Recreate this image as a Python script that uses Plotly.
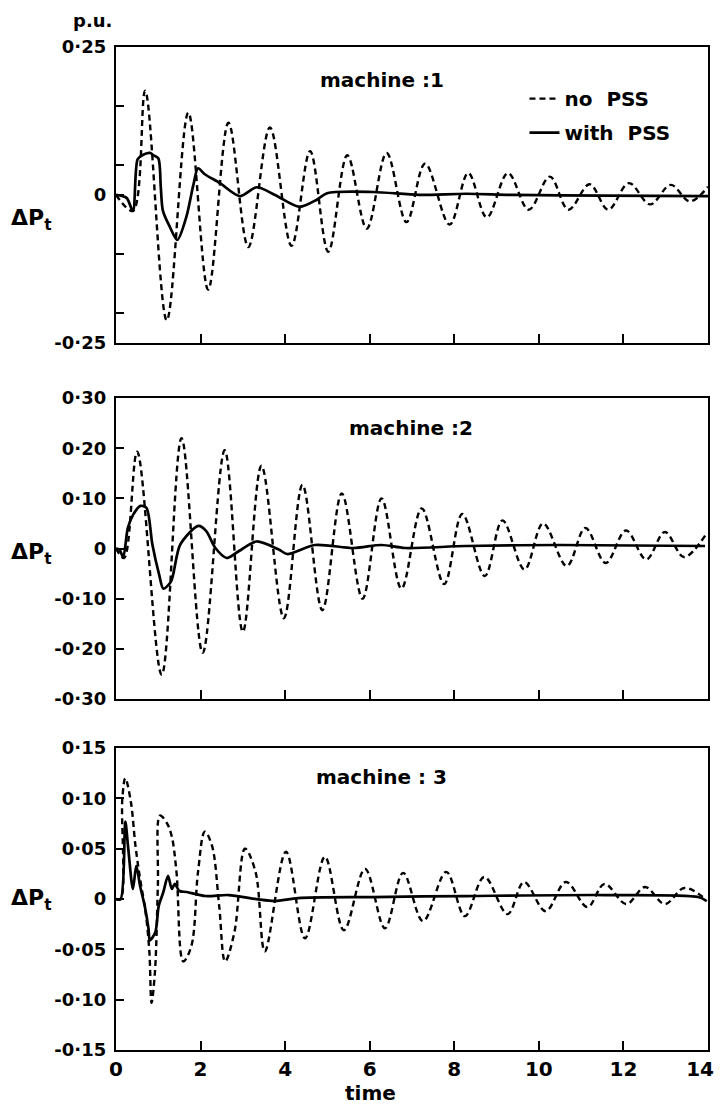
import plotly.graph_objects as go
from plotly.subplots import make_subplots

# ---------------- data ----------------
time_ticks = [0, 2, 4, 6, 8, 10, 12, 14]
time_tick_text = ["0", "2", "4", "6", "8", "10", "12", "14\u2009s"]

# machine 1
m1_t_nopss = [0, 0.40, 0.69, 1.20, 1.71, 2.18, 2.66, 3.13, 3.64, 4.15, 4.59, 5.02, 5.47, 5.93,
              6.40, 6.87, 7.31, 7.89, 8.33, 8.77, 9.27, 9.76, 10.26, 10.70, 11.20, 11.64,
              12.13, 12.63, 13.12, 13.57, 14.0]
m1_v_nopss = [0, -0.027, 0.176, -0.212, 0.139, -0.160, 0.122, -0.088, 0.114, -0.086, 0.074,
              -0.096, 0.067, -0.057, 0.071, -0.046, 0.053, -0.050, 0.037, -0.038, 0.037,
              -0.025, 0.031, -0.025, 0.018, -0.025, 0.020, -0.016, 0.017, -0.011, 0.014]
m1_t_pss = [0, 0.25, 0.40, 0.51, 0.62, 0.80, 0.89, 1.00, 1.06, 1.11, 1.28, 1.45, 1.66, 1.83,
            1.94, 2.10, 2.46, 2.93, 3.33, 3.76, 4.34, 4.75, 4.99, 6.08, 7.17, 8.28, 9.38,
            11.5, 14.0]
m1_v_pss = [0, -0.005, -0.027, 0.060, 0.067, 0.071, 0.067, 0.062, 0.012, -0.027, -0.055,
            -0.076, -0.038, 0.017, 0.045, 0.035, 0.020, -0.002, 0.013, 0.0, -0.020, -0.008,
            0.003, 0.005, 0.0, 0.002, 0.0, -0.001, -0.002]

# machine 2
m2_t_nopss = [0, 0.19, 0.50, 1.08, 1.55, 2.05, 2.57, 3.00, 3.44, 3.97, 4.41, 4.88, 5.34, 5.83,
              6.28, 6.75, 7.23, 7.76, 8.19, 8.72, 9.14, 9.66, 10.10, 10.66, 11.10, 11.58,
              12.06, 12.54, 12.98, 13.43, 13.95]
m2_v_nopss = [0, -0.019, 0.193, -0.252, 0.220, -0.208, 0.196, -0.166, 0.165, -0.139, 0.127,
              -0.123, 0.110, -0.100, 0.100, -0.080, 0.080, -0.071, 0.069, -0.055, 0.056,
              -0.042, 0.050, -0.035, 0.041, -0.029, 0.036, -0.022, 0.033, -0.017, 0.028]
m2_t_pss = [0, 0.08, 0.17, 0.28, 0.41, 0.58, 0.72, 0.86, 1.02, 1.12, 1.30, 1.52, 1.95, 2.13,
            2.35, 2.62, 2.91, 3.32, 3.85, 4.05, 4.70, 5.62, 6.28, 6.84, 8.27, 10.49, 13.93]
m2_v_pss = [0, -0.002, -0.017, 0.041, 0.068, 0.085, 0.081, 0.008, -0.052, -0.080, -0.066,
            0.008, 0.045, 0.035, 0.001, -0.019, -0.005, 0.014, -0.002, -0.011, 0.007, 0.001,
            0.007, 0.001, 0.005, 0.007, 0.005]

# machine 3
m3_t_nopss = [0, 0.11, 0.15, 0.22, 0.35, 0.46, 0.57, 0.70, 0.79, 0.84, 0.92, 0.99, 1.04,
              1.21, 1.32, 1.43, 1.59, 1.78, 1.94, 2.10, 2.27, 2.44, 2.58, 2.80, 3.05, 3.30,
              3.52, 4.02, 4.47, 4.94, 5.39, 5.89, 6.36, 6.79, 7.26, 7.81, 8.25, 8.71, 9.26,
              9.65, 10.16, 10.64, 11.15, 11.55, 12.07, 12.51, 12.98, 13.44, 13.94]
m3_v_nopss = [0, 0, 0.100, 0.120, 0.097, 0.053, 0.020, -0.013, -0.053, -0.103, -0.073, 0.013,
              0.083, 0.075, 0.062, 0.027, -0.062, -0.047, 0.027, 0.067, 0.053, -0.007, -0.062,
              -0.033, 0.050, 0.027, -0.052, 0.047, -0.039, 0.042, -0.031, 0.030, -0.029,
              0.026, -0.022, 0.027, -0.017, 0.022, -0.015, 0.017, -0.012, 0.017, -0.008,
              0.015, -0.005, 0.012, -0.005, 0.011, 0.0]
m3_t_pss = [0, 0.11, 0.22, 0.29, 0.40, 0.48, 0.57, 0.68, 0.77, 0.80, 0.93, 1.01, 1.12, 1.23,
            1.32, 1.39, 1.50, 1.67, 2.11, 2.66, 3.32, 3.76, 4.31, 6.07, 8.27, 11.57, 13.77,
            13.97]
m3_v_pss = [0, 0, 0.077, 0.050, 0.010, 0.033, 0.013, -0.007, -0.030, -0.041, -0.033, -0.007,
            0.007, 0.023, 0.010, 0.015, 0.008, 0.007, 0.003, 0.004, 0.0, -0.002, 0.001, 0.002,
            0.003, 0.004, 0.002, -0.002]

panels = [
    (m1_t_nopss, m1_v_nopss, m1_t_pss, m1_v_pss),
    (m2_t_nopss, m2_v_nopss, m2_t_pss, m2_v_pss),
    (m3_t_nopss, m3_v_nopss, m3_t_pss, m3_v_pss),
]
panel_titles = ["machine :1", "machine :2", "machine : 3"]

y1_ticks = [0.25, 0.15, 0.05, 0, -0.10, -0.20, -0.25]
y1_text = ["0·25", "", "", "0", "", "", "-0·25"]
y2_ticks = [0.30, 0.20, 0.10, 0, -0.10, -0.20, -0.30]
y2_text = ["0·30", "0·20", "0·10", "0", "-0·10", "-0·20", "-0·30"]
y3_ticks = [0.15, 0.10, 0.05, 0, -0.05, -0.10, -0.15]
y3_text = ["0·15", "0·10", "0·05", "0", "-0·05", "-0·10", "-0·15"]
y_ranges = [[-0.25, 0.25], [-0.30, 0.30], [-0.15, 0.15]]

# ---------------- figure ----------------
FONT = "DejaVu Sans"
fig = make_subplots(rows=3, cols=1)

for i, (tn, vn, tp, vp) in enumerate(panels, start=1):
    fig.add_trace(go.Scatter(x=tn, y=vn, mode="lines", name="no  PSS",
                             legendgroup="a", showlegend=(i == 1),
                             line=dict(color="black", width=2.4, dash="6px,4px",
                                       shape="spline", smoothing=1.0)),
                  row=i, col=1)
    fig.add_trace(go.Scatter(x=tp, y=vp, mode="lines", name="with  PSS",
                             legendgroup="b", showlegend=(i == 1),
                             line=dict(color="black", width=2.7,
                                       shape="spline", smoothing=0.8)),
                  row=i, col=1)

domains = [[0.705, 1.0], [0.350, 0.650], [0.0, 0.301]]
ytick_sets = [(y1_ticks, y1_text), (y2_ticks, y2_text), (y3_ticks, y3_text)]
for i in range(3):
    fig.update_yaxes(row=i + 1, col=1, domain=domains[i], range=y_ranges[i],
                     tickvals=ytick_sets[i][0], ticktext=ytick_sets[i][1],
                     ticks="inside", ticklen=8, tickwidth=2, tickcolor="black",
                     showline=True, mirror=True, linecolor="black", linewidth=2.4,
                     showgrid=False, zeroline=False, ticklabelstandoff=4,
                     automargin=False,
                     tickfont=dict(family=FONT, size=18, color="black", weight="bold"))
    fig.update_xaxes(row=i + 1, col=1, range=[0, 14],
                     tickvals=time_ticks, ticktext=time_tick_text,
                     showticklabels=(i == 2), ticklabeloverflow="allow",
                     automargin=False,
                     ticks="inside", ticklen=9, tickwidth=2, tickcolor="black",
                     showline=True, mirror=True, linecolor="black", linewidth=2.4,
                     showgrid=False, zeroline=False,
                     tickfont=dict(family=FONT, size=20, color="black", weight="bold"))

title_pos = [(0.449, 0.889), (0.498, 0.90), (0.449, 0.904)]
for i in range(3):
    xr = "x domain" if i == 0 else f"x{i+1} domain"
    yr = "y domain" if i == 0 else f"y{i+1} domain"
    fig.add_annotation(text=panel_titles[i], xref=xr, yref=yr,
                       x=title_pos[i][0], y=title_pos[i][1], showarrow=False,
                       xanchor="center", yanchor="middle",
                       font=dict(family=FONT, size=20, color="black", weight="bold"))

for ypos in [0.828, 0.4955, 0.1496]:
    fig.add_annotation(text="ΔP<sub>t</sub>", xref="paper", yref="paper",
                       x=-0.142, y=ypos, showarrow=False,
                       xanchor="center", yanchor="middle",
                       font=dict(family=FONT, size=22, color="black", weight="bold"))

fig.add_annotation(text="p.u.", xref="paper", yref="paper", x=-0.039, y=1.026,
                   showarrow=False, xanchor="center", yanchor="middle",
                   font=dict(family=FONT, size=18, color="black", weight="bold"))
fig.add_annotation(text="time", xref="paper", yref="paper", x=0.43, y=-0.043,
                   showarrow=False, xanchor="center", yanchor="middle",
                   font=dict(family=FONT, size=20, color="black", weight="bold"))

# page body has an 8px margin: figure is offset so the plot area lands on the
# reference pixels (x 116-708, y 47-1050 in the window)
fig.update_layout(
    width=719, height=1101,
    margin=dict(l=108, r=19, t=39, b=59, autoexpand=False),
    paper_bgcolor="white", plot_bgcolor="white",
    font=dict(family=FONT, color="black"),
    legend=dict(x=0.69, y=0.968, xanchor="left", yanchor="top",
                bgcolor="rgba(0,0,0,0)", tracegroupgap=5,
                font=dict(family=FONT, size=20, color="black", weight="bold")),
)

fig.write_html(
    "out.html",
    post_script="document.documentElement.style.overflow='hidden';"
                "document.body.style.overflow='hidden';",
)
